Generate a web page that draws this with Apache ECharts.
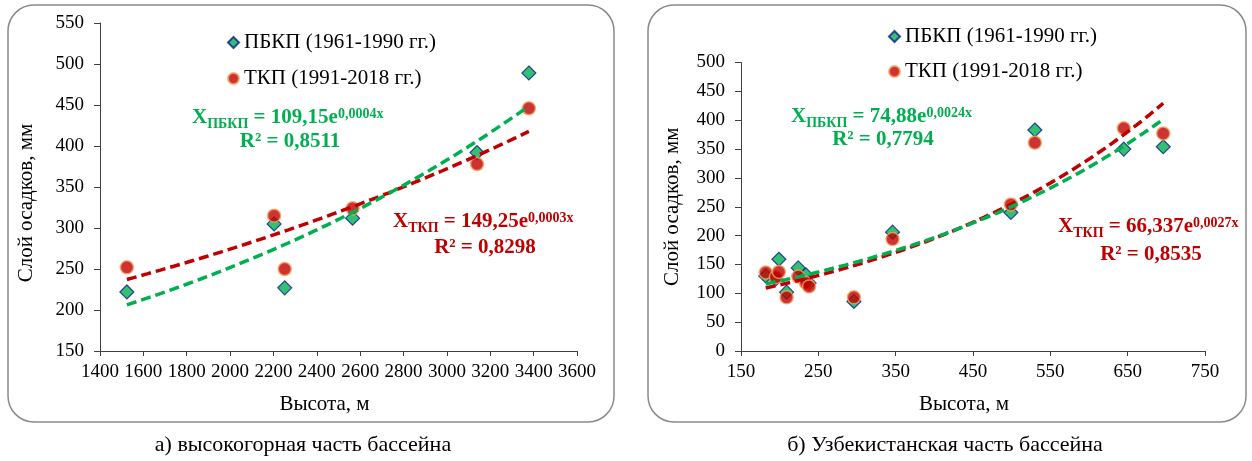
<!DOCTYPE html>
<html><head><meta charset="utf-8">
<script src="https://cdn.jsdelivr.net/npm/echarts@6/dist/echarts.min.js"></script>
<style>html,body{margin:0;padding:0;background:#fff}#c{width:1252px;height:461px}</style>
</head><body><div id="c"></div>
<script>
// ---- data ----
const nameA = 'ПБКП (1961-1990 гг.)';
const nameB = 'ТКП (1991-2018 гг.)';

// a) high-mountain part
const leftHeights = [1524, 2203, 2252, 2565, 3139, 3378];
const leftPBKP    = [222, 305, 227, 312, 392, 489];
const leftTKP     = [252, 315, 250, 324, 378, 446];

// б) Uzbekistan part
const rightHeights = [182, 195, 199, 209, 224, 234, 238, 296, 346, 499, 530, 645, 696];
const rightPBKP    = [130, 125, 159, 102, 144, 132, 118, 86, 206, 240, 383, 350, 354];
const rightTKP     = [136, 128, 137, 93, 129, 118, 112, 93, 194, 254, 361, 386, 377];

const leftEqPB  = {sub: 'ПБКП', coef: '109,15', exp: '0,0004x', r2: '0,8511'};
const leftEqTK  = {sub: 'ТКП',  coef: '149,25', exp: '0,0003x', r2: '0,8298'};
const rightEqPB = {sub: 'ПБКП', coef: '74,88',  exp: '0,0024x', r2: '0,7794'};
const rightEqTK = {sub: 'ТКП',  coef: '66,337', exp: '0,0027x', r2: '0,8535'};

const captionLeft  = 'а) высокогорная часть бассейна';
const captionRight = 'б) Узбекистанская часть бассейна';
const yTitle = 'Слой осадков, мм';
const xTitle = 'Высота, м';

// ---- helpers ----
const FF = 'Liberation Serif';
const GREEN = '#00B050', RED = '#C00000';
const AXIS = '#404040';

function pairs(xs, ys) { return xs.map((x, i) => [x, ys[i]]); }
// Excel-style exponential trendline: least squares on ln(y)
function expTrend(xs, ys, steps) {
  const n = xs.length; let sx = 0, sy = 0, sxx = 0, sxy = 0;
  for (let i = 0; i < n; i++) { const ly = Math.log(ys[i]); sx += xs[i]; sy += ly; sxx += xs[i] * xs[i]; sxy += xs[i] * ly; }
  const b = (n * sxy - sx * sy) / (n * sxx - sx * sx);
  const a = Math.exp((sy - b * sx) / n);
  const lo = Math.min(...xs), hi = Math.max(...xs), pts = [];
  for (let k = 0; k <= steps; k++) { const x = lo + (hi - lo) * k / steps; pts.push([x, a * Math.exp(b * x)]); }
  return pts;
}

const diamondStyle = {color: GREEN, borderColor: '#0b1f8c', borderWidth: 1.2};
const circleStyle  = {color: RED, borderColor: '#f5a25d', borderWidth: 1.5};

function scatterPair(idx) {
  const xs = idx === 0 ? leftHeights : rightHeights;
  const a = idx === 0 ? leftPBKP : rightPBKP;
  const b = idx === 0 ? leftTKP : rightTKP;
  return [
    {name: nameA, type: 'scatter', xAxisIndex: idx, yAxisIndex: idx, symbol: 'diamond', symbolSize: 14,
     itemStyle: diamondStyle, data: pairs(xs, a), z: 2},
    {name: nameB, type: 'scatter', xAxisIndex: idx, yAxisIndex: idx, symbol: 'circle', symbolSize: 13,
     itemStyle: circleStyle, data: pairs(xs, b), z: 3},
    {type: 'line', xAxisIndex: idx, yAxisIndex: idx, showSymbol: false, symbol: 'none', silent: true,
     lineStyle: {color: RED, width: 3.5, type: [10, 5]}, data: expTrend(xs, b, 60), z: 4},
    {type: 'line', xAxisIndex: idx, yAxisIndex: idx, showSymbol: false, symbol: 'none', silent: true,
     lineStyle: {color: GREEN, width: 3.5, type: [10, 5]}, data: expTrend(xs, a, 60), z: 5}
  ];
}

function xAxisCfg(idx, min, max, interval, pad) {
  return {type: 'value', gridIndex: idx, min, max, interval,
    name: xTitle, nameLocation: 'middle', nameGap: 43,
    nameTextStyle: {fontFamily: FF, fontSize: 21, color: '#000', padding: pad},
    axisLine: {lineStyle: {color: AXIS, width: 1}},
    axisTick: {show: true, length: 5, lineStyle: {color: AXIS}},
    axisLabel: {fontFamily: FF, fontSize: 19, color: '#000', margin: 12, formatter: v => String(v)},
    splitLine: {show: false}};
}
function yAxisCfg(idx, min, max, interval, gap, pad) {
  return {type: 'value', gridIndex: idx, min, max, interval,
    name: yTitle, nameLocation: 'middle', nameGap: gap,
    nameTextStyle: {fontFamily: FF, fontSize: 21, color: '#000', padding: pad},
    axisLine: {show: true, lineStyle: {color: AXIS, width: 1}},
    axisTick: {show: true, length: 6, lineStyle: {color: AXIS}},
    axisLabel: {fontFamily: FF, fontSize: 19, color: '#000', margin: 16, formatter: v => String(v)},
    splitLine: {show: false}};
}

function eqLine(eq, color, x, y) {
  return {type: 'text', x, y, z: 100, style: {
    text: '{m|X}{s|' + eq.sub + '}{m| = ' + eq.coef + 'e}{p|' + eq.exp + '}',
    align: 'left', verticalAlign: 'middle',
    rich: {
      m: {fontFamily: FF, fontWeight: 'bold', fontSize: 21, fill: color, lineHeight: 30, verticalAlign: 'middle'},
      s: {fontFamily: FF, fontWeight: 'bold', fontSize: 14, fill: color, lineHeight: 30, verticalAlign: 'bottom', padding: [0, 0, 2, 0]},
      p: {fontFamily: FF, fontWeight: 'bold', fontSize: 14, fill: color, lineHeight: 30, verticalAlign: 'top', padding: [4, 0, 0, 0]}
    }}};
}
function r2Line(eq, color, x, y) {
  return {type: 'text', x, y, z: 100, style: {text: 'R² = ' + eq.r2, align: 'center', verticalAlign: 'middle',
    fontFamily: FF, fontWeight: 'bold', fontSize: 21, fill: color}};
}

const legendBase = {orient: 'vertical', itemWidth: 11, itemHeight: 11, selectedMode: false, padding: 0,
  textStyle: {fontFamily: FF, fontSize: 21, color: '#000', lineHeight: 20},
  data: [{name: nameA, icon: 'diamond'}, {name: nameB, icon: 'circle'}]};

const option = {
  backgroundColor: '#fff',
  animation: false,
  legend: [
    Object.assign({}, legendBase, {left: 227, top: 32, itemGap: 15}),
    Object.assign({}, legendBase, {left: 888, top: 26, itemGap: 14})
  ],
  grid: [
    {left: 100, top: 23, width: 477, height: 328},
    {left: 741, top: 62.5, width: 464, height: 288.5}
  ],
  xAxis: [xAxisCfg(0, 1400, 3600, 200, [0, 28, 0, 0]), xAxisCfg(1, 150, 750, 100, [0, 18, 0, 0])],
  yAxis: [yAxisCfg(0, 150, 550, 50, 63, [0, 32, 0, 0]), yAxisCfg(1, 0, 500, 50, 58, [0, 0, 0, 0])],
  series: [...scatterPair(0), ...scatterPair(1)],
  graphic: [
    {type: 'rect', shape: {x: 8, y: 5, width: 606, height: 417, r: 26}, style: {fill: 'none', stroke: '#8a8a8a', lineWidth: 1.5}, z: -1},
    {type: 'rect', shape: {x: 648, y: 5, width: 598, height: 417, r: 26}, style: {fill: 'none', stroke: '#8a8a8a', lineWidth: 1.5}, z: -1},
    eqLine(leftEqPB, GREEN, 192, 118), r2Line(leftEqPB, GREEN, 290, 142),
    eqLine(leftEqTK, RED, 393, 222), r2Line(leftEqTK, RED, 485, 248),
    eqLine(rightEqPB, GREEN, 791, 117), r2Line(rightEqPB, GREEN, 883, 140),
    eqLine(rightEqTK, RED, 1058, 227), r2Line(rightEqTK, RED, 1151, 255),
    {type: 'text', x: 303, y: 445, style: {text: captionLeft, align: 'center', verticalAlign: 'middle', fontFamily: FF, fontSize: 22, fill: '#000'}},
    {type: 'text', x: 945, y: 445, style: {text: captionRight, align: 'center', verticalAlign: 'middle', fontFamily: FF, fontSize: 22, fill: '#000'}}
  ]
};
const chart = echarts.init(document.getElementById('c'), null, {renderer: 'canvas'});
chart.setOption(option);
</script></body></html>
